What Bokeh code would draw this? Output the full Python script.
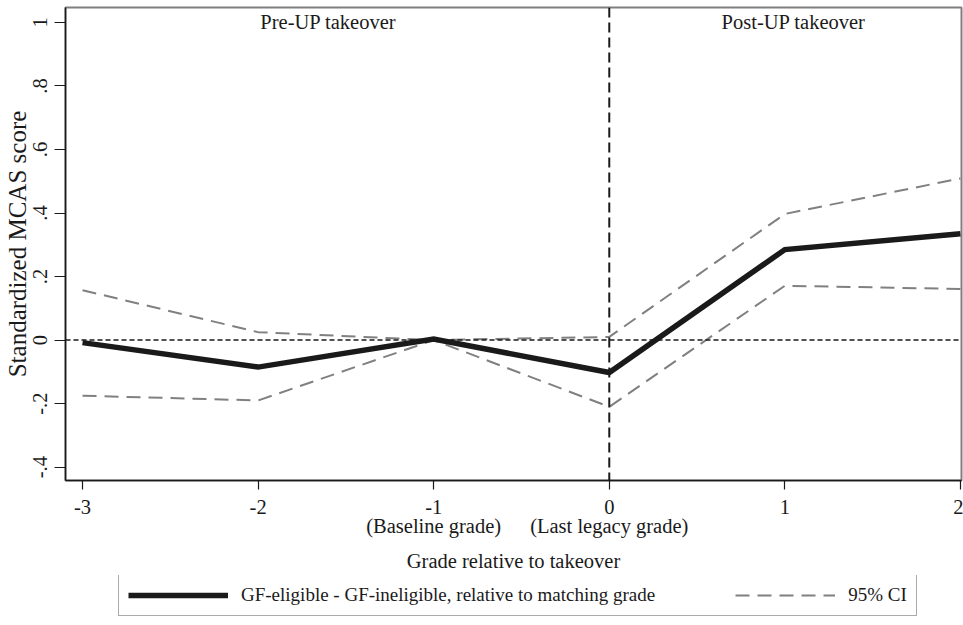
from bokeh.plotting import figure
from bokeh.layouts import column
from bokeh.models import Range1d, FixedTicker, Legend, LegendItem, Label, Span
from bokeh.embed import file_html
from bokeh.resources import INLINE

# ---- data ----
grades = [-3, -2, -1, 0, 1, 2]
estimate = [-0.008, -0.085, 0.003, -0.102, 0.285, 0.335]
ci_upper = [0.157, 0.025, 0.000, 0.010, 0.397, 0.509]
ci_lower = [-0.175, -0.190, 0.000, -0.210, 0.171, 0.161]

x_ticks = [-3, -2, -1, 0, 1, 2]
x_tick_labels = ["-3", "-2", "-1\n(Baseline grade)", "0\n(Last legacy grade)", "1", "2"]
y_ticks = [-0.4, -0.2, 0, 0.2, 0.4, 0.6, 0.8, 1]
y_tick_labels = ["-.4", "-.2", "0", ".2", ".4", ".6", ".8", "1"]

est_label = "GF-eligible - GF-ineligible, relative to matching grade"
ci_label = "95% CI"

FONT = "Liberation Serif"
FS = "20.5px"
EST_STYLE = dict(line_color="#1a1a1a", line_width=5.5, line_join="miter")
CI_STYLE = dict(line_color="#808080", line_width=2, line_dash="14 8")

p = figure(width=963, height=575, output_backend="svg", toolbar_location=None,
           x_range=Range1d(-3.097, 2.006), y_range=Range1d(-0.442, 1.047),
           min_border_left=65, min_border_right=2, min_border_top=7, min_border_bottom=92)
p.grid.visible = False
p.outline_line_color = "#7f7f7f"
p.outline_line_width = 2

for ax in (p.xaxis[0], p.yaxis[0]):
    ax.axis_line_color = "#1a1a1a"
    ax.axis_line_width = 1.5
    ax.major_tick_line_color = "#1a1a1a"
    ax.major_tick_line_width = 1.2
    ax.major_tick_in = 0
    ax.minor_tick_line_color = None
    ax.major_label_text_font = FONT
    ax.major_label_text_font_size = FS
    ax.major_label_text_color = "#1a1a1a"
    ax.axis_label_text_font = FONT
    ax.axis_label_text_font_style = "normal"
    ax.axis_label_text_color = "#1a1a1a"

p.xaxis.ticker = FixedTicker(ticks=x_ticks)
p.xaxis.major_label_overrides = {t: l for t, l in zip(x_ticks, x_tick_labels)}
p.xaxis.major_tick_out = 9
p.xaxis.major_label_standoff = 6
p.xaxis.major_label_text_line_height = 0.9
p.xaxis.axis_label = "Grade relative to takeover"
p.xaxis.axis_label_text_font_size = FS
p.xaxis.axis_label_standoff = 10

p.yaxis.ticker = FixedTicker(ticks=y_ticks)
p.yaxis.major_label_overrides = {t: l for t, l in zip(y_ticks, y_tick_labels)}
p.yaxis.major_label_orientation = "vertical"
p.yaxis.major_tick_out = 11
p.yaxis.major_label_standoff = 7
p.yaxis.axis_label = "Standardized MCAS score"
p.yaxis.axis_label_text_font_size = "25px"
p.yaxis.axis_label_standoff = 0

# reference lines
p.add_layout(Span(location=0, dimension="width", line_color="#1a1a1a",
                  line_width=1.5, line_dash="5 3"))
p.add_layout(Span(location=0, dimension="height", line_color="#1a1a1a",
                  line_width=2, line_dash="10 5"))

# series
p.line(grades, ci_upper, **CI_STYLE)
p.line(grades, ci_lower, **CI_STYLE)
p.line(grades, estimate, **EST_STYLE)

# region labels
p.add_layout(Label(x=-1.60, y=1.0, text="Pre-UP takeover", text_align="center",
                   text_baseline="middle", text_font=FONT, text_font_size=FS,
                   text_color="#1a1a1a"))
p.add_layout(Label(x=1.05, y=1.0, text="Post-UP takeover", text_align="center",
                   text_baseline="middle", text_font=FONT, text_font_size=FS,
                   text_color="#1a1a1a"))

# legend strip below the plot (keys only; no visible marks)
lg = figure(width=963, height=50, output_backend="svg", toolbar_location=None,
            x_range=Range1d(0, 1), y_range=Range1d(0, 1),
            min_border_left=0, min_border_right=0, min_border_top=0, min_border_bottom=0)
lg.axis.visible = False
lg.grid.visible = False
lg.outline_line_color = None
nan = float("nan")
r_e = lg.line([nan], [nan], **EST_STYLE)
r_c = lg.line([nan], [nan], **CI_STYLE)

legend = Legend(items=[LegendItem(label=est_label, renderers=[r_e]),
                       LegendItem(label=ci_label, renderers=[r_c])],
                orientation="horizontal", location=(53, 9))
legend.label_text_font = FONT
legend.label_text_font_size = "19px"
legend.label_text_color = "#1a1a1a"
legend.glyph_width = 100
legend.label_standoff = 13
legend.spacing = 80
legend.padding = 9
legend.margin = 0
legend.border_line_color = "#555555"
legend.border_line_width = 1.2
lg.add_layout(legend)

layout = column(p, lg, spacing=0)
open("out.html", "w").write(file_html(layout, INLINE))
